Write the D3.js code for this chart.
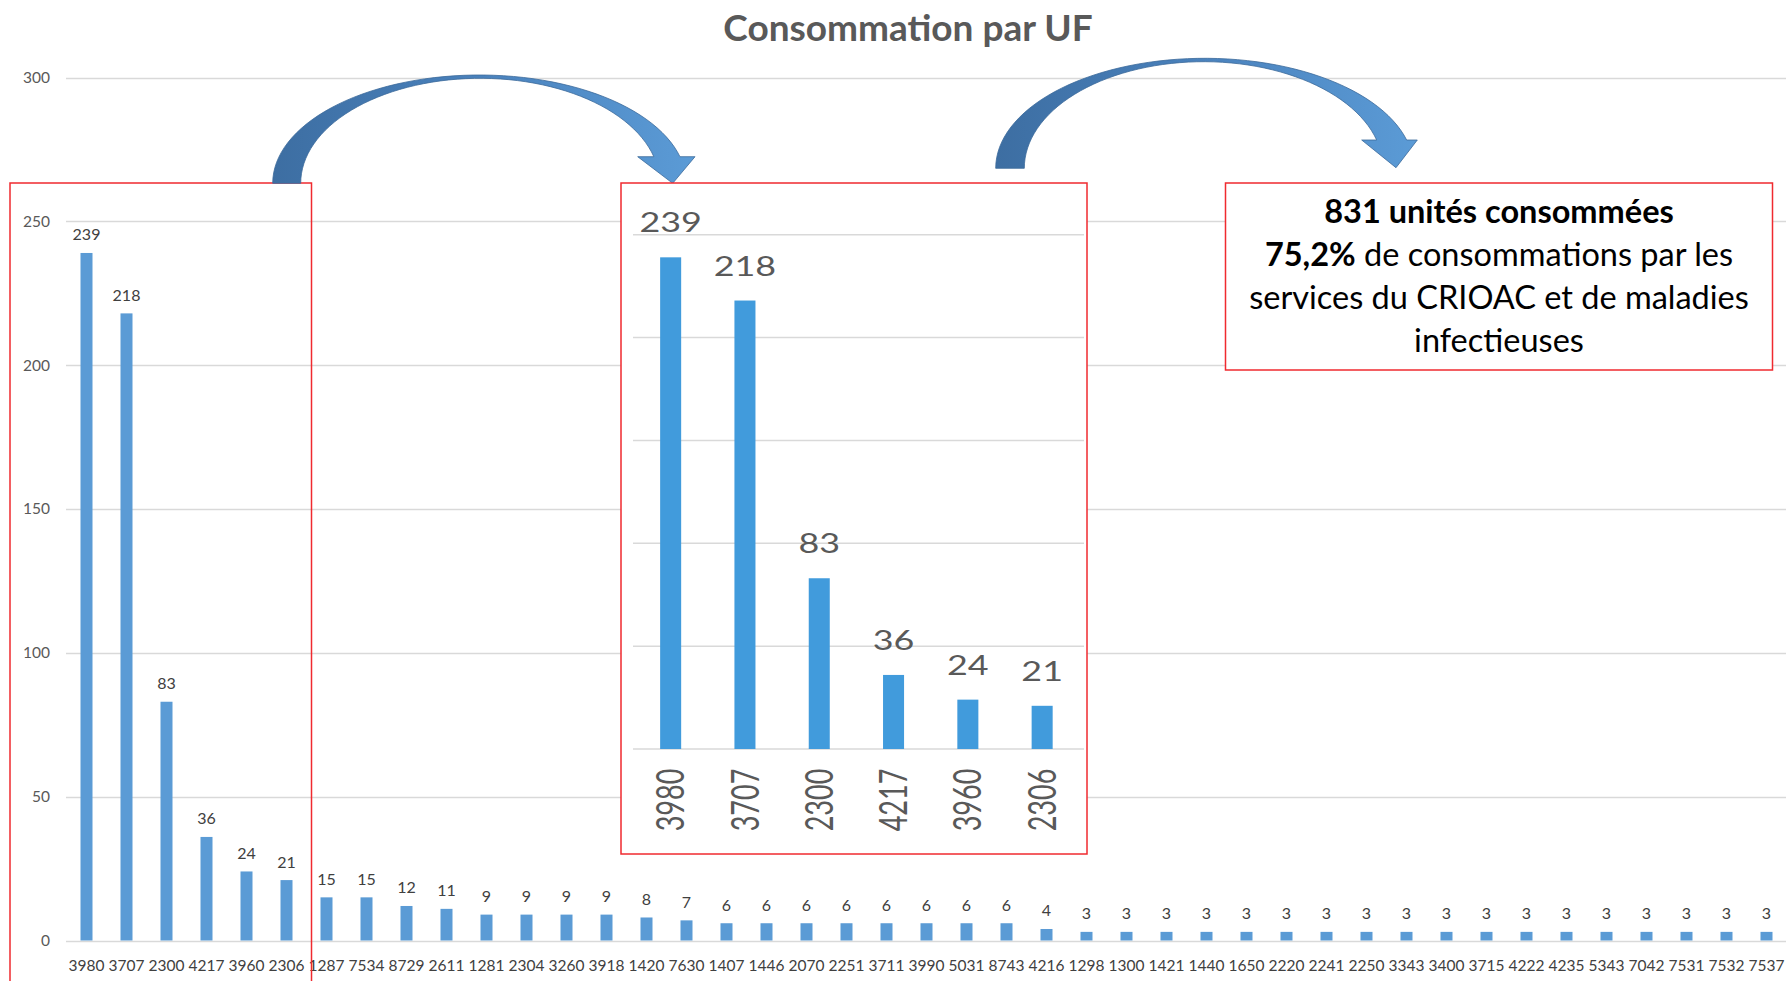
<!DOCTYPE html>
<html>
<head>
<meta charset="utf-8">
<script src="https://cdn.jsdelivr.net/npm/d3@7"></script>
<style>
  body { margin: 0; background: #fff; }
  svg { display: block; font-family: Lato, "Open Sans", sans-serif; }
</style>
</head>
<body>
<div class="chart"></div>
<script>
// UF codes and units consumed
var categories = ["3980", "3707", "2300", "4217", "3960", "2306", "1287", "7534", "8729", "2611",
  "1281", "2304", "3260", "3918", "1420", "7630", "1407", "1446", "2070", "2251",
  "3711", "3990", "5031", "8743", "4216", "1298", "1300", "1421", "1440", "1650",
  "2220", "2241", "2250", "3343", "3400", "3715", "4222", "4235", "5343", "7042",
  "7531", "7532", "7537"];
var values = [239, 218, 83, 36, 24, 21, 15, 15, 12, 11,
  9, 9, 9, 9, 8, 7, 6, 6, 6, 6,
  6, 6, 6, 6, 4, 3, 3, 3, 3, 3,
  3, 3, 3, 3, 3, 3, 3, 3, 3, 3,
  3, 3, 3];
var yTicks = [0, 50, 100, 150, 200, 250, 300];
var insetTicks = [0, 50, 100, 150, 200, 250];
var insetCount = 6;
var title = "Consommation par UF";
var noteLines = [
  [["831 unités consommées", true]],
  [["75,2%", true], [" de consommations par les", false]],
  [["services du CRIOAC et de maladies", false]],
  [["infectieuses", false]]
];

var svgWidth = 1786;
var svgHeight = 981;

var svg = d3.select(".chart")
  .append("svg")
  .attr("width", svgWidth)
  .attr("height", svgHeight);

var defs = svg.append("defs");
var grad = defs.append("linearGradient")
  .attr("id", "arrowGrad")
  .attr("x1", "0").attr("y1", "0").attr("x2", "1").attr("y2", "0");
grad.append("stop").attr("offset", "0").attr("stop-color", "#3d6ea2");
grad.append("stop").attr("offset", "0.5").attr("stop-color", "#4a82bd");
grad.append("stop").attr("offset", "1").attr("stop-color", "#5b9bd6");

// main chart scales
var x = d3.scaleBand()
  .domain(categories)
  .range([66.5, 1786.5])
  .paddingInner(0.7)
  .paddingOuter(0.35);

var y = d3.scaleLinear()
  .domain([0, 300])
  .range([940.5, 77.5]);

// gridlines
svg.append("g")
  .selectAll("line")
  .data(yTicks)
  .enter()
  .append("line")
  .attr("x1", 66)
  .attr("x2", svgWidth)
  .attr("y1", function(d) { return Math.round(y(d)) + 0.5; })
  .attr("y2", function(d) { return Math.round(y(d)) + 0.5; })
  .attr("stroke", "#d9d9d9")
  .attr("stroke-width", 1.3);

// y axis labels
var leftAxis = d3.axisLeft(y).tickValues(yTicks).tickSize(0).tickPadding(0);
var yAxisG = svg.append("g")
  .attr("transform", "translate(50,0)")
  .call(leftAxis);
yAxisG.select(".domain").remove();
yAxisG.selectAll("text")
  .attr("fill", "#595959")
  .style("font-family", "Lato, sans-serif")
  .style("font-size", "15.5px");

// bars
svg.append("g")
  .selectAll("rect")
  .data(values)
  .enter()
  .append("rect")
  .attr("x", function(d, i) { return x(categories[i]); })
  .attr("y", function(d) { return y(d); })
  .attr("width", x.bandwidth())
  .attr("height", function(d) { return y(0) - y(d); })
  .attr("fill", "#5b9bd5");

// value labels
svg.append("g")
  .selectAll("text")
  .data(values)
  .enter()
  .append("text")
  .attr("x", function(d, i) { return x(categories[i]) + x.bandwidth() / 2; })
  .attr("y", function(d) { return y(d) - 12.5; })
  .attr("text-anchor", "middle")
  .attr("fill", "#404040")
  .style("font-size", "16px")
  .text(function(d) { return d; });

// x axis labels
var bottomAxis = d3.axisBottom(x).tickSize(0).tickPadding(0);
var xAxisG = svg.append("g")
  .attr("transform", "translate(0,960)")
  .call(bottomAxis);
xAxisG.select(".domain").remove();
xAxisG.selectAll("text")
  .attr("fill", "#404040")
  .attr("dy", "0.72em")
  .style("font-family", "Lato, sans-serif")
  .style("font-size", "15.5px");

// title
svg.append("text")
  .attr("x", 908)
  .attr("y", 41)
  .attr("text-anchor", "middle")
  .attr("fill", "#595959")
  .style("font-weight", "bold")
  .style("font-size", "37px")
  .text(title);

// red frame around the top 6
svg.append("rect")
  .attr("x", 10)
  .attr("y", 183)
  .attr("width", 301.5)
  .attr("height", 820)
  .attr("fill", "none")
  .attr("stroke", "#f02a2f")
  .attr("stroke-width", 1.5);

// curved arrows
function arrowPath(a) {
  var pts = [];
  var n = 60, t, k;
  var tho = Math.asin((a.cy - a.headY) / a.outer.ry);
  for (k = 0; k <= n; k++) {
    t = Math.PI - (Math.PI - tho) * k / n;
    pts.push([a.outer.cx + a.outer.rx * Math.cos(t), a.cy - a.outer.ry * Math.sin(t)]);
  }
  pts.push([a.wingR, a.headY]);
  pts.push(a.tip);
  pts.push([a.wingL, a.headY]);
  var thi = Math.asin((a.cy - a.headY) / a.inner.ry);
  for (k = 0; k <= n; k++) {
    t = thi + (Math.PI - thi) * k / n;
    pts.push([a.inner.cx + a.inner.rx * Math.cos(t), a.cy - a.inner.ry * Math.sin(t)]);
  }
  return d3.line()(pts) + "Z";
}

var arrows = [
  { cy: 183.3, outer: { cx: 479.5, rx: 206.8, ry: 108.3 }, inner: { cx: 480.2, rx: 179.5, ry: 105 },
    headY: 156.7, wingL: 637.7, wingR: 695, tip: [672.7, 183.3] },
  { cy: 168.3, outer: { cx: 1204.7, rx: 209, ry: 110 }, inner: { cx: 1203.7, rx: 179.4, ry: 106.6 },
    headY: 140, wingL: 1361.7, wingR: 1417.3, tip: [1396, 167.7] }
];

svg.append("g")
  .selectAll("path")
  .data(arrows)
  .enter()
  .append("path")
  .attr("d", arrowPath)
  .attr("fill", "url(#arrowGrad)")
  .attr("stroke", "#3b6a9b")
  .attr("stroke-width", 0.8);

// zoomed inset
var insetCats = categories.slice(0, insetCount);
var insetVals = values.slice(0, insetCount);

var inset = svg.append("g");
inset.append("rect")
  .attr("x", 621)
  .attr("y", 183)
  .attr("width", 466)
  .attr("height", 671)
  .attr("fill", "#fff")
  .attr("stroke", "#f02a2f")
  .attr("stroke-width", 1.5);

var xi = d3.scaleBand()
  .domain(insetCats)
  .range([633.5, 1079.3])
  .paddingInner(0.717)
  .paddingOuter(0.3585);

var yi = d3.scaleLinear()
  .domain([0, 250])
  .range([749, 234.7]);

inset.append("g")
  .selectAll("line")
  .data(insetTicks)
  .enter()
  .append("line")
  .attr("x1", 633)
  .attr("x2", 1084)
  .attr("y1", function(d) { return yi(d); })
  .attr("y2", function(d) { return yi(d); })
  .attr("stroke", "#d9d9d9")
  .attr("stroke-width", 1.5);

inset.append("g")
  .selectAll("rect")
  .data(insetVals)
  .enter()
  .append("rect")
  .attr("x", function(d, i) { return xi(insetCats[i]); })
  .attr("y", function(d) { return yi(d); })
  .attr("width", xi.bandwidth())
  .attr("height", function(d) { return yi(0) - yi(d); })
  .attr("fill", "#419bdc");

inset.append("g")
  .selectAll("text")
  .data(insetVals)
  .enter()
  .append("text")
  .attr("transform", function(d, i) {
    return "translate(" + (xi(insetCats[i]) + xi.bandwidth() / 2) + "," + (yi(d) - 25) + ") scale(1.33,1)";
  })
  .attr("text-anchor", "middle")
  .attr("fill", "#595959")
  .style("font-size", "27px")
  .text(function(d) { return d; });

inset.append("g")
  .selectAll("text")
  .data(insetCats)
  .enter()
  .append("text")
  .attr("transform", function(d) {
    return "translate(" + (xi(d) + xi.bandwidth() / 2) + ",800) scale(1.4,1) rotate(-90)";
  })
  .attr("text-anchor", "middle")
  .attr("dy", "0.36em")
  .attr("fill", "#595959")
  .style("font-size", "27px")
  .text(function(d) { return d; });

// note box
svg.append("rect")
  .attr("x", 1225.5)
  .attr("y", 183)
  .attr("width", 547)
  .attr("height", 187)
  .attr("fill", "#fff")
  .attr("stroke", "#f02a2f")
  .attr("stroke-width", 1.5);

var note = svg.append("text")
  .attr("text-anchor", "middle")
  .attr("fill", "#000")
  .style("font-size", "32.5px");

noteLines.forEach(function(line, i) {
  var row = note.append("tspan")
    .attr("x", 1499)
    .attr("y", 223 + i * 43);
  line.forEach(function(seg) {
    row.append("tspan")
      .style("font-weight", seg[1] ? "bold" : "normal")
      .text(seg[0]);
  });
});
</script>
</body>
</html>
